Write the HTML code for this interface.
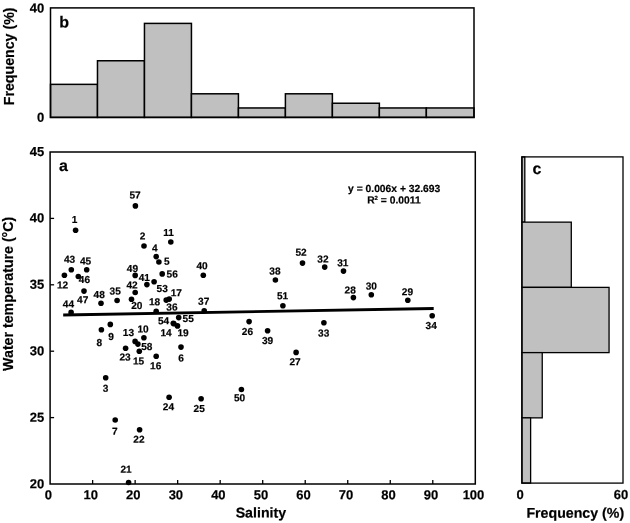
<!DOCTYPE html>
<html><head><meta charset="utf-8"><title>chart</title>
<style>html,body{margin:0;padding:0;background:#fff}svg{display:block;will-change:transform;filter:grayscale(1)}text{font-family:"Liberation Sans",sans-serif;font-weight:bold;fill:#000;stroke:#000;stroke-width:0.2px}</style>
</head><body>
<svg width="630" height="523" viewBox="0 0 630 523">
<rect x="0" y="0" width="630" height="523" fill="#fff"/>
<g stroke="#000" stroke-width="1.5" fill="#c0c0c0">
<rect x="50.50" y="84.36" width="46.98" height="33.04"/>
<rect x="97.48" y="60.76" width="46.98" height="56.64"/>
<rect x="144.46" y="23.40" width="46.98" height="94.00"/>
<rect x="191.44" y="93.80" width="46.98" height="23.60"/>
<rect x="238.42" y="107.96" width="46.98" height="9.44"/>
<rect x="285.40" y="93.80" width="46.98" height="23.60"/>
<rect x="332.38" y="103.24" width="46.98" height="14.16"/>
<rect x="379.36" y="107.96" width="46.98" height="9.44"/>
<rect x="426.34" y="107.96" width="47.66" height="9.44"/>
<rect x="50.50" y="7.90" width="423.50" height="109.50" fill="none"/>
</g>
<text transform="rotate(0.03 44.3 12.45)" x="44.3" y="12.45" font-size="13" text-anchor="end">40</text>
<text transform="rotate(0.03 44.3 121.65)" x="44.3" y="121.65" font-size="13" text-anchor="end">0</text>
<text transform="translate(13.9,56.4) rotate(-90)" font-size="14.2" text-anchor="middle">Frequency (%)</text>
<text transform="rotate(0.03 59.2 27.5)" x="59.2" y="27.5" font-size="16">b</text>
<rect x="50.10" y="152.00" width="425.20" height="332.00" fill="none" stroke="#000" stroke-width="1.5"/>
<g stroke="#000" stroke-width="1.3">
<line x1="92.62" y1="484.00" x2="92.62" y2="480.00"/>
<line x1="135.14" y1="484.00" x2="135.14" y2="480.00"/>
<line x1="177.66" y1="484.00" x2="177.66" y2="480.00"/>
<line x1="220.18" y1="484.00" x2="220.18" y2="480.00"/>
<line x1="262.70" y1="484.00" x2="262.70" y2="480.00"/>
<line x1="305.22" y1="484.00" x2="305.22" y2="480.00"/>
<line x1="347.74" y1="484.00" x2="347.74" y2="480.00"/>
<line x1="390.26" y1="484.00" x2="390.26" y2="480.00"/>
<line x1="432.78" y1="484.00" x2="432.78" y2="480.00"/>
<line x1="50.10" y1="218.40" x2="54.10" y2="218.40"/>
<line x1="50.10" y1="284.80" x2="54.10" y2="284.80"/>
<line x1="50.10" y1="351.20" x2="54.10" y2="351.20"/>
<line x1="50.10" y1="417.60" x2="54.10" y2="417.60"/>
</g>
<text transform="rotate(0.03 44.3 155.95)" x="44.3" y="155.95" font-size="13" text-anchor="end">45</text>
<text transform="rotate(0.03 44.3 222.39)" x="44.3" y="222.39" font-size="13" text-anchor="end">40</text>
<text transform="rotate(0.03 44.3 288.83)" x="44.3" y="288.83" font-size="13" text-anchor="end">35</text>
<text transform="rotate(0.03 44.3 355.27)" x="44.3" y="355.27" font-size="13" text-anchor="end">30</text>
<text transform="rotate(0.03 44.3 421.71)" x="44.3" y="421.71" font-size="13" text-anchor="end">25</text>
<text transform="rotate(0.03 44.3 488.15)" x="44.3" y="488.15" font-size="13" text-anchor="end">20</text>
<text transform="rotate(0.03 48.30 499.3)" x="48.30" y="499.3" font-size="13" text-anchor="middle">0</text>
<text transform="rotate(0.03 90.82 499.3)" x="90.82" y="499.3" font-size="13" text-anchor="middle">10</text>
<text transform="rotate(0.03 133.34 499.3)" x="133.34" y="499.3" font-size="13" text-anchor="middle">20</text>
<text transform="rotate(0.03 175.86 499.3)" x="175.86" y="499.3" font-size="13" text-anchor="middle">30</text>
<text transform="rotate(0.03 218.38 499.3)" x="218.38" y="499.3" font-size="13" text-anchor="middle">40</text>
<text transform="rotate(0.03 260.90 499.3)" x="260.90" y="499.3" font-size="13" text-anchor="middle">50</text>
<text transform="rotate(0.03 303.42 499.3)" x="303.42" y="499.3" font-size="13" text-anchor="middle">60</text>
<text transform="rotate(0.03 345.94 499.3)" x="345.94" y="499.3" font-size="13" text-anchor="middle">70</text>
<text transform="rotate(0.03 388.46 499.3)" x="388.46" y="499.3" font-size="13" text-anchor="middle">80</text>
<text transform="rotate(0.03 430.98 499.3)" x="430.98" y="499.3" font-size="13" text-anchor="middle">90</text>
<text transform="rotate(0.03 473.50 499.3)" x="473.50" y="499.3" font-size="13" text-anchor="middle">100</text>
<text transform="translate(12.9,293.8) rotate(-90)" font-size="14.2" text-anchor="middle">Water temperature (°C)</text>
<text transform="rotate(0.03 260.9 517.4)" x="260.9" y="517.4" font-size="14.2" text-anchor="middle">Salinity</text>
<text transform="rotate(0.03 59.0 171)" x="59.0" y="171" font-size="16">a</text>
<line x1="63.2" y1="315.0" x2="433.7" y2="308.5" stroke="#000" stroke-width="2.8"/>
<text transform="rotate(0.03 394.2 192.0)" x="394.2" y="192.0" font-size="10.3" text-anchor="middle" stroke="#000" stroke-width="0.25">y = 0.006x + 32.693</text>
<text transform="rotate(0.03 393.9 203.4)" x="393.9" y="203.4" font-size="10.3" text-anchor="middle" stroke="#000" stroke-width="0.25">R<tspan font-size="6" dy="-3.3">2</tspan><tspan dy="3.3"> = 0.0011</tspan></text>
<g fill="#000">
<circle cx="75.6" cy="230.2" r="2.8"/>
<circle cx="144.0" cy="246.0" r="2.8"/>
<circle cx="105.7" cy="377.8" r="2.8"/>
<circle cx="156.2" cy="256.6" r="2.8"/>
<circle cx="158.9" cy="262.0" r="2.8"/>
<circle cx="181.0" cy="347.1" r="2.8"/>
<circle cx="115.2" cy="420.0" r="2.8"/>
<circle cx="101.4" cy="329.7" r="2.8"/>
<circle cx="110.3" cy="324.4" r="2.8"/>
<circle cx="143.9" cy="337.8" r="2.8"/>
<circle cx="170.8" cy="242.0" r="2.8"/>
<circle cx="64.4" cy="275.2" r="2.8"/>
<circle cx="135.1" cy="341.4" r="2.8"/>
<circle cx="173.9" cy="323.7" r="2.8"/>
<circle cx="139.3" cy="351.3" r="2.8"/>
<circle cx="156.2" cy="356.2" r="2.8"/>
<circle cx="169.2" cy="299.1" r="2.8"/>
<circle cx="156.2" cy="311.2" r="2.8"/>
<circle cx="177.5" cy="325.9" r="2.8"/>
<circle cx="131.5" cy="299.2" r="2.8"/>
<circle cx="128.6" cy="482.5" r="2.8"/>
<circle cx="139.6" cy="429.7" r="2.8"/>
<circle cx="125.6" cy="348.3" r="2.8"/>
<circle cx="169.1" cy="397.3" r="2.8"/>
<circle cx="201.1" cy="398.7" r="2.8"/>
<circle cx="249.1" cy="321.6" r="2.8"/>
<circle cx="296.1" cy="352.4" r="2.8"/>
<circle cx="353.4" cy="297.6" r="2.8"/>
<circle cx="407.8" cy="300.3" r="2.8"/>
<circle cx="371.3" cy="294.8" r="2.8"/>
<circle cx="343.5" cy="271.1" r="2.8"/>
<circle cx="324.7" cy="267.1" r="2.8"/>
<circle cx="323.9" cy="322.8" r="2.8"/>
<circle cx="432.2" cy="315.8" r="2.8"/>
<circle cx="117.1" cy="300.5" r="2.8"/>
<circle cx="166.2" cy="300.1" r="2.8"/>
<circle cx="204.2" cy="310.8" r="2.8"/>
<circle cx="275.4" cy="280.0" r="2.8"/>
<circle cx="267.6" cy="330.8" r="2.8"/>
<circle cx="203.3" cy="275.3" r="2.8"/>
<circle cx="146.9" cy="284.6" r="2.8"/>
<circle cx="135.2" cy="292.5" r="2.8"/>
<circle cx="71.3" cy="269.8" r="2.8"/>
<circle cx="71.1" cy="312.4" r="2.8"/>
<circle cx="86.7" cy="269.8" r="2.8"/>
<circle cx="78.3" cy="276.5" r="2.8"/>
<circle cx="84.0" cy="291.1" r="2.8"/>
<circle cx="101.0" cy="303.3" r="2.8"/>
<circle cx="135.2" cy="275.4" r="2.8"/>
<circle cx="241.4" cy="389.5" r="2.8"/>
<circle cx="282.9" cy="305.7" r="2.8"/>
<circle cx="302.5" cy="263.1" r="2.8"/>
<circle cx="154.1" cy="281.8" r="2.8"/>
<circle cx="173.3" cy="323.3" r="2.8"/>
<circle cx="178.7" cy="317.6" r="2.8"/>
<circle cx="162.2" cy="273.9" r="2.8"/>
<circle cx="135.4" cy="205.9" r="2.8"/>
<circle cx="137.9" cy="344.1" r="2.8"/>
</g>
<g font-size="10.1" text-anchor="middle" stroke="#000" stroke-width="0.35">
<text transform="rotate(0.03 74.6 223.12)" x="74.6" y="223.12">1</text>
<text transform="rotate(0.03 142.6 239.62)" x="142.6" y="239.62">2</text>
<text transform="rotate(0.03 105.5 391.82)" x="105.5" y="391.82">3</text>
<text transform="rotate(0.03 154.9 251.62)" x="154.9" y="251.62">4</text>
<text transform="rotate(0.03 166.7 264.82)" x="166.7" y="264.82">5</text>
<text transform="rotate(0.03 181.0 361.42)" x="181.0" y="361.42">6</text>
<text transform="rotate(0.03 114.7 434.82)" x="114.7" y="434.82">7</text>
<text transform="rotate(0.03 99.2 346.12)" x="99.2" y="346.12">8</text>
<text transform="rotate(0.03 111.1 339.92)" x="111.1" y="339.92">9</text>
<text transform="rotate(0.03 143.0 332.52)" x="143.0" y="332.52">10</text>
<text transform="rotate(0.03 168.6 235.92)" x="168.6" y="235.92">11</text>
<text transform="rotate(0.03 62.5 288.62)" x="62.5" y="288.62">12</text>
<text transform="rotate(0.03 128.4 336.02)" x="128.4" y="336.02">13</text>
<text transform="rotate(0.03 166.1 336.22)" x="166.1" y="336.22">14</text>
<text transform="rotate(0.03 138.6 364.62)" x="138.6" y="364.62">15</text>
<text transform="rotate(0.03 155.7 369.32)" x="155.7" y="369.32">16</text>
<text transform="rotate(0.03 176.3 296.32)" x="176.3" y="296.32">17</text>
<text transform="rotate(0.03 154.6 305.32)" x="154.6" y="305.32">18</text>
<text transform="rotate(0.03 183.1 336.32)" x="183.1" y="336.32">19</text>
<text transform="rotate(0.03 136.8 309.02)" x="136.8" y="309.02">20</text>
<text transform="rotate(0.03 126.1 472.72)" x="126.1" y="472.72">21</text>
<text transform="rotate(0.03 138.9 442.82)" x="138.9" y="442.82">22</text>
<text transform="rotate(0.03 125.1 360.62)" x="125.1" y="360.62">23</text>
<text transform="rotate(0.03 168.4 410.32)" x="168.4" y="410.32">24</text>
<text transform="rotate(0.03 199.2 412.02)" x="199.2" y="412.02">25</text>
<text transform="rotate(0.03 247.4 335.12)" x="247.4" y="335.12">26</text>
<text transform="rotate(0.03 295.1 365.22)" x="295.1" y="365.22">27</text>
<text transform="rotate(0.03 350.2 293.52)" x="350.2" y="293.52">28</text>
<text transform="rotate(0.03 407.4 295.32)" x="407.4" y="295.32">29</text>
<text transform="rotate(0.03 371.3 289.52)" x="371.3" y="289.52">30</text>
<text transform="rotate(0.03 342.8 266.22)" x="342.8" y="266.22">31</text>
<text transform="rotate(0.03 322.9 262.52)" x="322.9" y="262.52">32</text>
<text transform="rotate(0.03 323.7 336.62)" x="323.7" y="336.62">33</text>
<text transform="rotate(0.03 431.2 329.12)" x="431.2" y="329.12">34</text>
<text transform="rotate(0.03 115.2 294.62)" x="115.2" y="294.62">35</text>
<text transform="rotate(0.03 171.9 310.52)" x="171.9" y="310.52">36</text>
<text transform="rotate(0.03 203.7 304.82)" x="203.7" y="304.82">37</text>
<text transform="rotate(0.03 274.9 274.42)" x="274.9" y="274.42">38</text>
<text transform="rotate(0.03 267.6 343.92)" x="267.6" y="343.92">39</text>
<text transform="rotate(0.03 202.1 269.22)" x="202.1" y="269.22">40</text>
<text transform="rotate(0.03 144.3 281.12)" x="144.3" y="281.12">41</text>
<text transform="rotate(0.03 132.1 288.42)" x="132.1" y="288.42">42</text>
<text transform="rotate(0.03 69.5 262.82)" x="69.5" y="262.82">43</text>
<text transform="rotate(0.03 68.4 307.62)" x="68.4" y="307.62">44</text>
<text transform="rotate(0.03 85.6 264.42)" x="85.6" y="264.42">45</text>
<text transform="rotate(0.03 84.4 283.12)" x="84.4" y="283.12">46</text>
<text transform="rotate(0.03 82.7 303.32)" x="82.7" y="303.32">47</text>
<text transform="rotate(0.03 99.2 298.02)" x="99.2" y="298.02">48</text>
<text transform="rotate(0.03 132.4 272.02)" x="132.4" y="272.02">49</text>
<text transform="rotate(0.03 239.5 401.32)" x="239.5" y="401.32">50</text>
<text transform="rotate(0.03 282.6 299.32)" x="282.6" y="299.32">51</text>
<text transform="rotate(0.03 301.0 255.82)" x="301.0" y="255.82">52</text>
<text transform="rotate(0.03 162.2 292.12)" x="162.2" y="292.12">53</text>
<text transform="rotate(0.03 163.5 324.22)" x="163.5" y="324.22">54</text>
<text transform="rotate(0.03 188.2 322.02)" x="188.2" y="322.02">55</text>
<text transform="rotate(0.03 172.2 277.52)" x="172.2" y="277.52">56</text>
<text transform="rotate(0.03 135.0 198.62)" x="135.0" y="198.62">57</text>
<text transform="rotate(0.03 146.8 349.92)" x="146.8" y="349.92">58</text>
</g>
<g stroke="#000" stroke-width="1.3" fill="#c0c0c0">
<rect x="521.90" y="156.90" width="2.91" height="65.24"/>
<rect x="521.90" y="222.14" width="49.39" height="65.24"/>
<rect x="521.90" y="287.38" width="87.16" height="65.24"/>
<rect x="521.90" y="352.62" width="20.34" height="65.24"/>
<rect x="521.90" y="417.86" width="8.72" height="65.24"/>
<rect x="521.90" y="156.90" width="101.10" height="326.20" fill="none"/>
</g>
<text transform="rotate(0.03 520.0 499.0)" x="520.0" y="499.0" font-size="13" text-anchor="middle">0</text>
<text transform="rotate(0.03 621 499.0)" x="621" y="499.0" font-size="13" text-anchor="middle">60</text>
<text transform="rotate(0.03 575.3 517.8)" x="575.3" y="517.8" font-size="14.2" text-anchor="middle">Frequency (%)</text>
<text transform="rotate(0.03 532.5 174.1)" x="532.5" y="174.1" font-size="16">c</text>
</svg>
</body></html>
